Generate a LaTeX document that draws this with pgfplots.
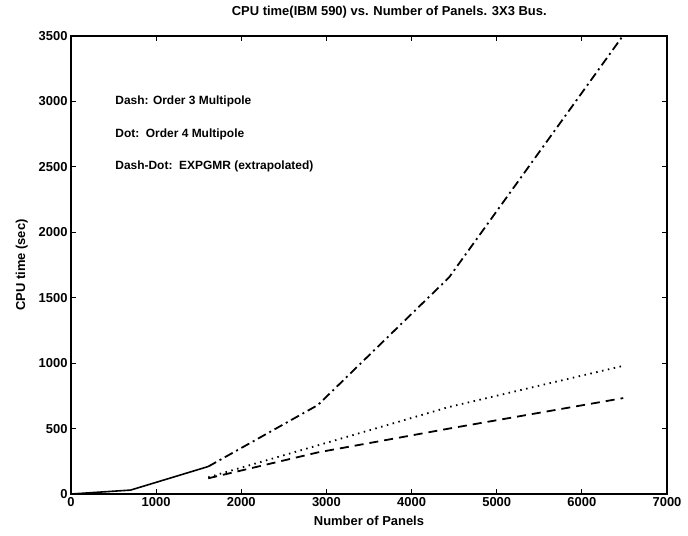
\documentclass[border=0pt]{standalone}
\usepackage{pgfplots}
\pgfplotsset{compat=1.18}
\usepackage{fontspec}
\setmainfont{Liberation Sans}

\begin{document}
\begin{tikzpicture}
\begin{axis}[
    scale only axis,
    width=596bp, height=458bp,
    xmin=0, xmax=7000,
    ymin=0, ymax=3500,
    xtick={0,1000,...,7000},
    ytick={0,500,...,3500},
    tick align=inside,
    major tick length=5bp,
    tick style={line width=1pt, black},
    axis line style={line width=1.4pt},
    tick label style={font=\fontsize{13}{13}\selectfont\bfseries},
    /pgf/number format/assume math mode=true,
    /pgf/number format/1000 sep={},
    xlabel={Number of Panels},
    ylabel={CPU time (sec)},
    label style={font=\fontsize{13}{13}\selectfont\bfseries},
    xlabel style={yshift=-3bp},
    ylabel style={yshift=4bp},
    clip=false,
]
% measured part (all curves coincide)
\addplot[black, line width=1.6pt] coordinates {
    (0,0) (700,30) (1612,210)
};
% Dash-Dot: EXPGMR (extrapolated)
\addplot[black, line width=1.8pt, dash pattern=on 9bp off 4bp on 2bp off 4bp] coordinates {
    (1612,210) (2900,680) (4440,1655) (6480,3500)
};
% Dot: Order 4 Multipole
\addplot[black, line width=1.8pt, dash pattern=on 1.5bp off 4.5bp] coordinates {
    (1612,128) (2900,372) (4440,665) (6470,977)
};
% Dash: Order 3 Multipole
\addplot[black, line width=1.8pt, dash pattern=on 9bp off 6bp] coordinates {
    (1612,120) (2900,318) (4440,500) (6486,733)
};
\node[anchor=west, font=\fontsize{12}{12}\selectfont\bfseries] at (axis cs:480,3000) {Dash: Order 3 Multipole};
\node[anchor=west, font=\fontsize{12}{12}\selectfont\bfseries] at (axis cs:480,2750) {Dot:\ \ Order 4 Multipole};
\node[anchor=west, font=\fontsize{12}{12}\selectfont\bfseries] at (axis cs:480,2500) {Dash-Dot:\ \ EXPGMR (extrapolated)};
\node[font=\fontsize{13}{13}\selectfont\bfseries] at ([yshift=24bp]rel axis cs:0.534,1) {CPU time(IBM 590) vs. Number of Panels. 3X3 Bus.};
\coordinate (sw) at (rel axis cs:0,0);
\coordinate (ne) at (rel axis cs:1,1);
\end{axis}
\pgfresetboundingbox
\path ([shift={(-71bp,-41bp)}]sw) rectangle ([shift={(21bp,36bp)}]ne);
\end{tikzpicture}
\end{document}
